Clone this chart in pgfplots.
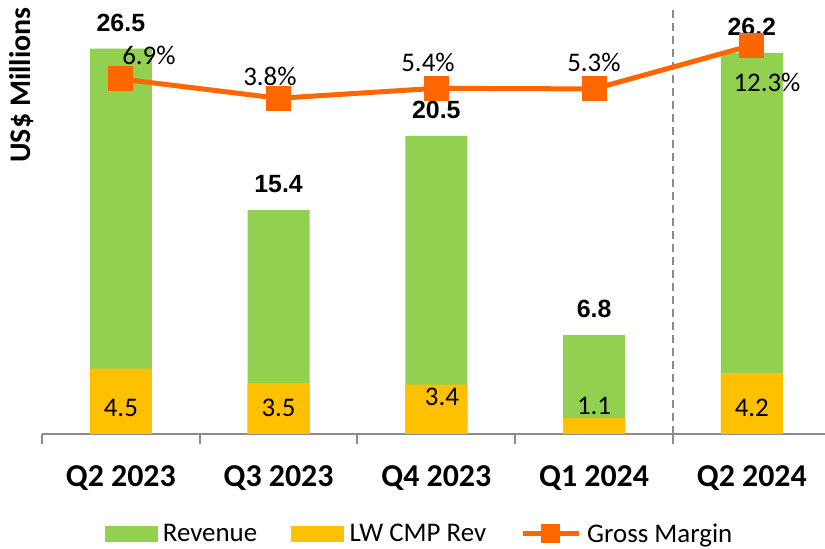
\documentclass[border=0pt]{standalone}
\usepackage{pgfplots}
\pgfplotsset{compat=1.18}
\usepackage{fontspec}
\setmainfont{Carlito}
\newfontfamily\arialfont{Liberation Sans}
\definecolor{revgreen}{HTML}{92D050}
\definecolor{lwgold}{HTML}{FFC000}
\definecolor{gmorange}{HTML}{FF6600}
\definecolor{axisgrey}{HTML}{8C8C8C}

\pgfplotsset{
  base/.style={
    at={(42bp,115bp)}, anchor=south west,
    scale only axis, width=783bp, height=429bp,
    xmin=-0.5, xmax=4.464,
  },
  gmlegend/.style={
    legend image code/.code={
      \draw[##1] (0bp,0bp) -- (56bp,0bp);
      \draw[##1, mark size=7bp] plot coordinates {(28bp,0bp)};}
  },
}

\begin{document}
\begin{tikzpicture}
\useasboundingbox (0,0) rectangle (825bp,549bp);
% bars (US$ millions)
\begin{axis}[base,
  ymin=0, ymax=29.5,
  axis x line*=bottom, axis y line=none,
  x axis line style={draw=axisgrey, line width=2bp, -},
  xtick={0,...,4},
  xticklabels={Q2 2023,Q3 2023,Q4 2023,Q1 2024,Q2 2024},
  major x tick style={draw=none},
  minor xtick={-0.5,0.5,...,3.5},
  minor x tick style={draw=axisgrey, line width=2bp},
  minor tick length=10bp,
  xtick align=outside,
  xticklabel style={font=\bfseries\fontsize{32}{38}\selectfont, inner sep=0pt, anchor=north, yshift=-27bp},
]
\addplot[ybar, bar width=0.393, bar shift=0pt, fill=revgreen, draw=none,
  point meta=explicit symbolic, nodes near coords,
  nodes near coords style={font=\arialfont\bfseries\fontsize{25}{30}\selectfont, anchor=center, yshift=26bp}]
  coordinates {(0,26.5)[26.5] (1,15.4)[15.4] (2,20.5)[20.5] (3,6.8)[6.8] (4,26.2)[26.2]};
\addplot[ybar, bar width=0.393, bar shift=0pt, fill=lwgold, draw=none]
  coordinates {(0,4.5) (1,3.5) (2,3.4) (3,1.1) (4,4.2)};
\draw[axisgrey, line width=2bp, dash pattern=on 8bp off 5bp] (axis cs:3.5,0) -- (axis cs:3.5,29.2);
\begin{scope}[font=\fontsize{27}{32}\selectfont]
\node at (axis cs:0,1.79) {4.5};
\node at (axis cs:1,1.79) {3.5};
\node at (axis cs:2.036,2.54) {3.4};
\node at (axis cs:3,1.93) {1.1};
\node at (axis cs:4,1.79) {4.2};
\end{scope}
\end{axis}
% gross margin (%)
\begin{axis}[base,
  ymin=-50, ymax=18.75, hide axis,
  legend style={at={(0.482,-0.233)}, anchor=center, draw=none, fill=none,
    legend columns=3, font=\fontsize{27}{32}\selectfont,
    /tikz/every even column/.append style={column sep=32bp},
    /tikz/every odd column/.append style={column sep=4bp}},
]
\addlegendimage{legend image code/.code={\fill[revgreen] (0bp,-7.5bp) rectangle (52bp,7.5bp);}}
\addlegendentry{Revenue}
\addlegendimage{legend image code/.code={\fill[lwgold] (0bp,-7.5bp) rectangle (52bp,7.5bp);}}
\addlegendentry{LW CMP Rev}
\addplot[gmorange, line width=5bp, mark=square*, mark size=10bp,
  mark options={solid, draw=none, fill=gmorange}, gmlegend]
  coordinates {(0,6.9) (1,3.8) (2,5.4) (3,5.3) (4,12.3)};
\addlegendentry{Gross Margin}
\begin{scope}[font=\fontsize{27}{32}\selectfont]
\node at (axis cs:0.178,10.74) {6.9\%};
\node at (axis cs:0.945,7.37) {3.8\%};
\node at (axis cs:1.947,9.62) {5.4\%};
\node at (axis cs:2.999,9.62) {5.3\%};
\node at (axis cs:4.096,6.41) {12.3\%};
\end{scope}
\end{axis}
\node[rotate=90, font=\bfseries\fontsize{30}{36}\selectfont] at (22bp,464bp) {US\$ Millions};
\end{tikzpicture}
\end{document}
